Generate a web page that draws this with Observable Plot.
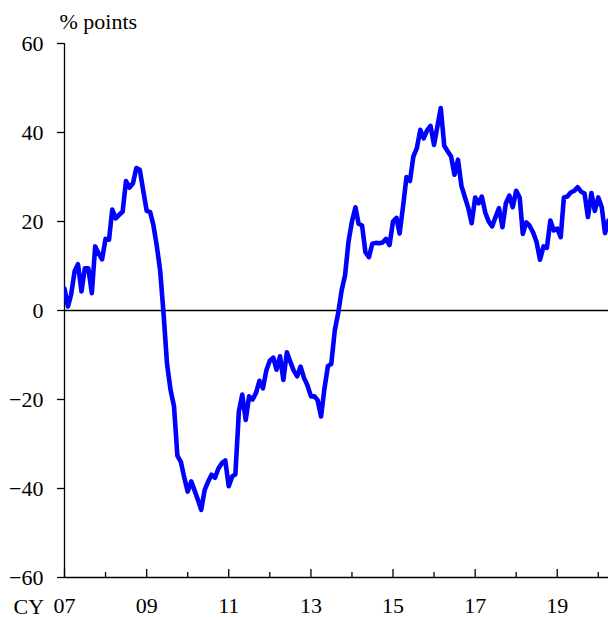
<!DOCTYPE html>
<html>
<head>
<meta charset="utf-8">
<script src="https://cdn.jsdelivr.net/npm/d3@7"></script>
<script src="https://cdn.jsdelivr.net/npm/@observablehq/plot@0.6"></script>
<style>
  html, body { margin: 0; padding: 0; background: #fff; }
</style>
</head>
<body>
<div id="chart"></div>
<script>
// ---- data (monthly, starting Jan 2007) ----
const startYear = 2007;
const values = [
  // 2007
  4.9, 0.9, 3.6, 8.8, 10.4, 4.3, 9.5, 9.5, 3.9, 14.4, 12.8, 11.5,
  // 2008
  16.1, 15.9, 22.7, 20.7, 21.5, 22.2, 29.1, 27.6, 28.6, 32.0, 31.6, 27.0,
  // 2009
  22.4, 22.1, 19.3, 14.5, 9.0, -1.0, -12.0, -17.8, -21.5, -32.6, -34.0, -37.5,
  // 2010
  -40.7, -38.4, -40.3, -42.5, -44.8, -40.3, -38.5, -36.9, -37.6, -35.5, -34.3, -33.7,
  // 2011
  -39.5, -37.3, -36.8, -22.7, -18.9, -24.6, -19.3, -20.0, -18.5, -15.8, -17.5, -13.5,
  // 2012
  -11.3, -10.6, -13.3, -10.3, -15.6, -9.4, -11.5, -13.5, -14.8, -12.6, -15.2, -16.8,
  // 2013
  -19.3, -19.3, -20.1, -23.8, -17.6, -12.5, -12.0, -4.5, -0.5, 4.5, 8.0, 15.4,
  // 2014
  20.0, 23.2, 19.5, 19.1, 13.1, 12.0, 15.0, 15.2, 15.1, 15.3, 16.1, 14.7,
  // 2015
  20.0, 20.8, 17.3, 23.5, 30.0, 29.1, 34.6, 36.5, 40.6, 38.7, 40.5, 41.5,
  // 2016
  37.2, 41.5, 45.5, 37.0, 35.8, 34.6, 30.5, 33.9, 28.0, 25.5, 23.0, 19.6,
  // 2017
  25.4, 24.1, 25.6, 22.0, 20.0, 18.9, 21.0, 23.0, 18.7, 24.1, 25.8, 23.2,
  // 2018
  26.9, 25.4, 17.2, 19.8, 19.0, 17.5, 15.4, 11.4, 14.4, 14.1, 20.2, 18.0,
  // 2019
  18.4, 16.5, 25.4, 25.6, 26.5, 26.9, 27.7, 26.7, 26.3, 21.0, 26.4, 22.4,
  // 2020
  25.4, 23.2, 17.4, 20.2
];
const yTicks = [-60, -40, -20, 0, 20, 40, 60];
const allYears = [2007, 2008, 2009, 2010, 2011, 2012, 2013, 2014, 2015, 2016, 2017, 2018, 2019, 2020];
const labelYears = [2007, 2009, 2011, 2013, 2015, 2017, 2019];
const yLabel = "% points";
const xLabel = "CY";

// ---- build ----
const data = values.map((v, i) => ({date: new Date(Date.UTC(startYear, i, 1)), value: v}));
const toDate = y => new Date(Date.UTC(y, 0, 1));
const majorDates = labelYears.map(toDate);
const minorDates = allYears.filter(y => !labelYears.includes(y)).map(toDate);

const W = 608, H = 617, mT = 43, mB = 40, mL = 64, mR = 0;
const frameH = H - mT - mB;
const ink = "black";

const chart = Plot.plot({
  width: W, height: H,
  marginTop: mT, marginBottom: mB, marginLeft: mL, marginRight: mR,
  style: {
    fontFamily: "'Liberation Serif', 'Times New Roman', serif",
    fontSize: "22px",
    background: "white",
    color: "black",
    overflow: "visible"
  },
  x: {type: "utc", domain: [data[0].date, data[data.length - 1].date]},
  y: {domain: [-60, 60]},
  marks: [
    Plot.ruleY([0], {stroke: ink, strokeWidth: 1.3}),
    Plot.ruleY([-60], {stroke: ink, strokeWidth: 1.3}),
    Plot.ruleX([data[0].date], {stroke: ink, strokeWidth: 1.3}),
    Plot.tickX(majorDates, {x: d => d, stroke: ink, strokeWidth: 1.3, insetTop: frameH - 8}),
    Plot.tickX(minorDates, {x: d => d, stroke: ink, strokeWidth: 1.3, insetTop: frameH - 5}),
    Plot.axisY(yTicks, {tickSize: 7, tickPadding: 14, label: null, stroke: ink, strokeWidth: 1.3}),
    Plot.axisX(majorDates, {tickSize: 0, tickPadding: 20, tickFormat: d3.utcFormat("%y"), label: null}),
    Plot.line(data, {x: "date", y: "value", stroke: "#0000ff", strokeWidth: 4.6, strokeLinejoin: "round", clip: true}),
    Plot.text([yLabel], {text: d => d, frameAnchor: "top-left", textAnchor: "start", lineAnchor: "bottom", dx: -5, dy: -15}),
    Plot.text([xLabel], {text: d => d, frameAnchor: "bottom-left", textAnchor: "start", lineAnchor: "bottom", dx: -51, dy: 36})
  ]
});
document.getElementById("chart").appendChild(chart);
</script>
</body>
</html>
